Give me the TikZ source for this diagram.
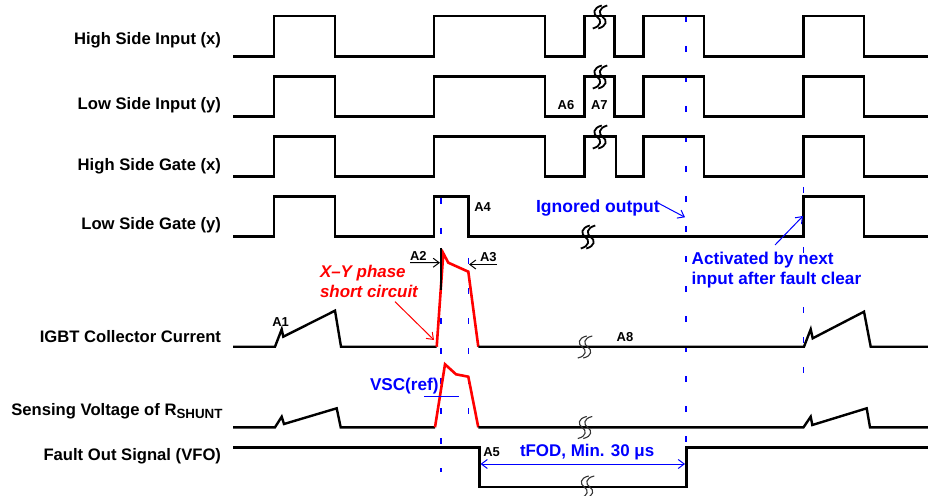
\documentclass[tikz,border=0pt]{standalone}
\usepackage{fontspec}
\setmainfont{Liberation Sans}
\usetikzlibrary{arrows.meta}
\begin{document}
\begin{tikzpicture}[x=1bp,y=-1bp,
  sig/.style={line width=2.4bp, line join=miter},
  redsig/.style={line width=2.6bp, red, line join=miter},
  guide/.style={blue, line width=1.5bp, dash pattern=on 6bp off 24bp},
  lab/.style={font=\fontsize{16.7}{18}\selectfont\bfseries, inner sep=0pt, outer sep=0pt, anchor=base east},
  alab/.style={font=\fontsize{13}{14}\selectfont\bfseries, inner sep=0pt, outer sep=0pt, anchor=base west},
  note/.style={font=\fontsize{17.2}{20}\selectfont\bfseries, text=blue, inner sep=0pt, outer sep=0pt, anchor=base west},
  rnote/.style={font=\fontsize{17}{20}\selectfont\bfseries\itshape, text=red, inner sep=0pt, outer sep=0pt, anchor=base west},
  barb/.style={-{Straight Barb[length=6bp,width=9bp]}, line width=1bp},
  brk/.pic={\foreach \d in {-2.75,2.75}{\draw[line width=1.8bp, shift={(\d,0)}] (4.5,-11.5) .. controls (-4.5,-9) and (-4.5,-3) .. (0,0) .. controls (4.5,3) and (4.5,9) .. (-4.5,11.5);}},
  brkthin/.pic={\foreach \d in {-2.75,2.75}{\draw[line width=1.1bp, black!80, shift={(\d,0)}] (4.5,-11) .. controls (-4.5,-9) and (-4.5,-3) .. (0,0) .. controls (4.5,3) and (4.5,9) .. (-4.5,11);}},
]
\useasboundingbox (0,0) rectangle (928,496);

% guide lines
\draw[guide] (441,198) -- (441,472);
\draw[guide] (468.3,198) -- (468.3,415);
\draw[guide] (686,16) -- (686,488);
\draw[guide] (803.5,157) -- (803.5,382);

% labels
\node[lab] (lHSI) at (221,45) {High Side Input (x)};
\node[lab] (lLSI) at (221,109.3) {Low Side Input (y)};
\node[lab] (lHSG) at (221,170.7) {High Side Gate (x)};
\node[lab] (lLSG) at (221,230) {Low Side Gate (y)};
\node[lab] (lIGBT) at (221,342.7) {IGBT Collector Current};
\node[lab] (lSV) at (222.5,415.7) {Sensing Voltage of R\raisebox{-3bp}{\fontsize{13.4}{14}\selectfont SHUNT}};
\node[lab] (lFO) at (221,460.7) {Fault Out Signal (VFO)};

% row 1
\draw[sig] (233,56.7) -| (274,16) -| (335,56.7) -| (434,16) -| (545,56.7) -| (584.3,16) -| (614.3,56.7) -| (643.3,16) -| (704,56.7) -| (803.5,16) -| (864,56.7) -- (928,56.7);
% row 2
\draw[sig] (233,116.7) -| (274,76.7) -| (335,116.7) -| (434,76.7) -| (545,116.7) -| (584.3,76.7) -| (614.3,116.7) -| (643.3,76.7) -| (704,116.7) -| (803.5,76.7) -| (864,116.7) -- (928,116.7);
% row 3
\draw[sig] (233,176.7) -| (274,136.7) -| (335,176.7) -| (434,136.7) -| (545,176.7) -| (584.3,136.7) -| (615.7,176.7) -| (643.3,136.7) -| (704,176.7) -| (803.5,136.7) -| (864,176.7) -- (928,176.7);
% row 4
\draw[sig] (233,236.7) -| (274,196.7) -| (335,236.7) -| (434,196.7) -| (468.3,236.7) -| (803.5,196.7) -| (864,236.7) -- (928,236.7);
% row 5
\draw[sig] (233,346.7) -- (275,346.7) -- (281.7,329.3) -- (283.3,336.7) -- (335,310.7) -- (341,346.7) -- (436.7,346.7);
\draw[redsig] (436.7,346.7) -- (443.3,253.3) -- (448.3,262.7) -- (468.3,271.7) -- (478.3,346.7);
\draw[sig] (478.3,346.7) -- (804,346.7) -- (810.7,329.3) -- (812.7,338.3) -- (864,311.7) -- (870.7,346.7) -- (928,346.7);
% row 6
\draw[sig] (233,427.3) -- (275,427.3) -- (281.7,416.7) -- (284,424) -- (336.7,408.3) -- (340.7,427.3) -- (435,427.3);
\draw[redsig] (435,427.3) -- (445,364.3) -- (456,374.3) -- (468.3,376.7) -- (478.3,427.3);
\draw[sig] (478.3,427.3) -- (803.5,427.3) -- (810.7,416.7) -- (812.3,425) -- (866.7,408.3) -- (870,427.3) -- (928,427.3);
% row 7
\draw[sig] (233,447.3) -- (479.3,447.3) -- (479.3,486.7) -- (686.5,486.7) -- (686.5,447.3) -- (928,447.3);

% breaks
\pic at (600,17) {brk};
\pic at (600,77) {brk};
\pic at (600,137) {brk};
\pic at (588,237) {brk};
\pic at (585,347) {brkthin};
\pic at (585,427.5) {brkthin};
\pic at (587,487) {brkthin};

% A labels
\node[alab] (a1) at (272.3,326.7) {A1};
\node[alab] (a2) at (410,260.2) {A2};
\node[alab] (a3) at (480,262) {A3};
\node[alab] (a4) at (474.3,211.7) {A4};
\node[alab] (a5) at (483.3,456) {A5};
\node[alab] (a6) at (557.7,109.3) {A6};
\node[alab] (a7) at (591,109.3) {A7};
\node[alab] (a8) at (616.7,341.7) {A8};

% A2 / A3 markers
\coordinate (m2) at (440,262.7);
\coordinate (m3) at (469,264.5);
\draw[line width=1.5bp] (441,248) -- (441,290);
\draw[barb] (a2.base west) ++(0,2.5) -- (m2);
\draw[barb] (497,264.5) -- (m3);

% red annotation
\node[rnote] (xy1) at (320,277.3) {X–Y phase};
\node[rnote] (xy2) at (320,297.3) {short circuit};
\coordinate (sc) at (434,340);
\draw[barb, red, line width=1bp] (395,301.7) -- (sc);

% blue annotations
\node[note, font=\fontsize{17.6}{20}\selectfont\bfseries] (ign) at (536,212.3) {Ignored output};
\coordinate (ignt) at (685,217.3);
\draw[barb, blue] (ign.east) ++(-2,-5) -- (ignt);

\node[note] (act1) at (691.7,265) {Activated by next};
\node[note] (act2) at (691.7,284.5) {input after fault clear};
\coordinate (actt) at (803,216);
\draw[barb, blue] (775,245) -- (actt);

\node[note] (vsc) at (370,390.7) {VSC(ref)};
\draw[blue, line width=1.3bp] (424.3,396.7) -- (459,396.7);

\node[note, font=\fontsize{17}{20}\selectfont\bfseries] (tfod) at (520,456.7) {tFOD, Min. 30 μs};
\coordinate (tf1) at (480.5,464);
\coordinate (tf2) at (685,464);
\draw[{Straight Barb[length=6bp,width=9bp]}-{Straight Barb[length=6bp,width=9bp]}, blue, line width=1bp] (tf1) -- (tf2);
\end{tikzpicture}
\end{document}
